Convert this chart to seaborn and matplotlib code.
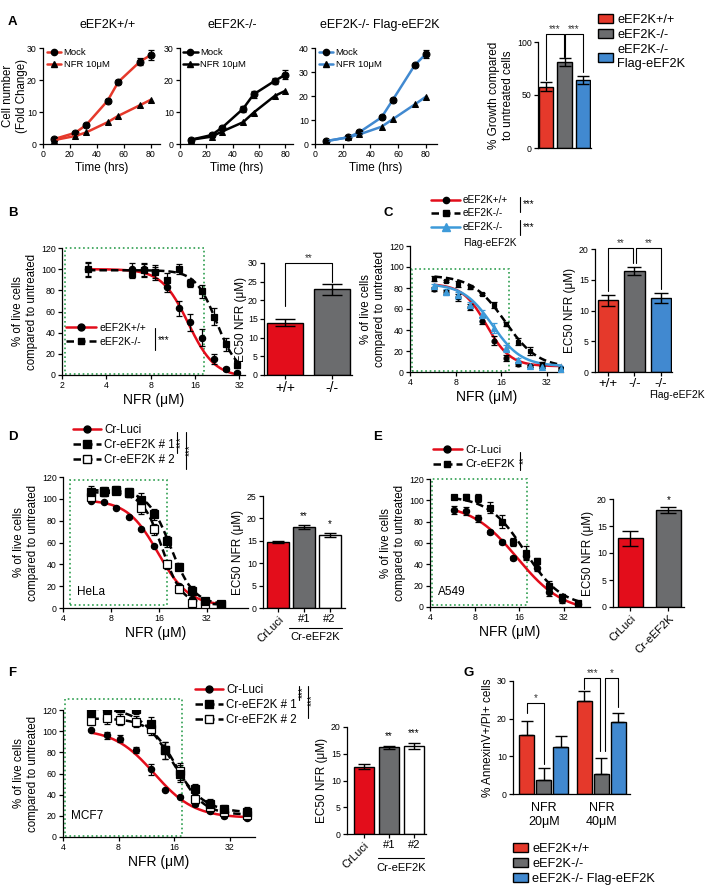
import numpy as np
import pandas as pd
import seaborn as sns
import matplotlib
matplotlib.use("Agg")
import matplotlib.pyplot as plt
import matplotlib.transforms as mtransforms
from matplotlib.lines import Line2D
from matplotlib.patches import Patch, Rectangle

# ---------------- data ----------------
# A: growth curves (fold change) at these time points
hours = [8, 24, 32, 48, 56, 72, 80]
wt_mock = [1.5, 3.5, 5.9, 13.5, 19.4, 25.7, 27.8]
wt_mock_err = [0.5, 0.4, 0.4, 0.5, 0.5, 1.1, 1.5]
wt_nfr = [1.2, 2.5, 3.6, 6.8, 8.8, 12.1, 13.8]
ko_mock = [1.3, 2.8, 5.1, 11.0, 15.5, 19.7, 21.6]
ko_mock_err = [0.4, 0.5, 0.5, 0.9, 1.2, 1.0, 1.4]
ko_nfr = [1.3, 2.3, 3.9, 6.8, 9.8, 15.0, 16.6]
flag_mock = [1.2, 2.8, 4.9, 11.1, 18.3, 32.9, 37.5]
flag_mock_err = [0.3, 0.4, 0.4, 0.5, 0.6, 0.6, 1.5]
flag_nfr = [1.2, 2.8, 4.0, 7.2, 10.3, 16.5, 19.7]

genotypes = ["eEF2K+/+", "eEF2K-/-", "eEF2K-/- Flag-eEF2K"]
growth_pct = [58, 81, 64]
growth_err = [4, 4, 4]

# B: dose response, MEFs
dose_b = [3, 6, 7.2, 8.6, 10.4, 12.4, 14.9, 17.9, 21.5, 25.8, 31]
b_wt = [100, 100, 100, 97, 83, 63, 50, 35, 15, 6, 1.5]
b_wt_err = [7, 6, 6, 7, 5, 7, 8, 8, 5, 2, 2]
b_ko = [100, 95, 99, 97, 90, 100, 87, 79, 55, 29, 9]
b_ko_err = [6, 3, 6, 5, 6, 5, 4, 6, 8, 6, 2]
b_fit_wt = (100, -2, 14.4, 4.8)      # top, bottom, EC50, hill slope
b_fit_ko = (99, 0, 22.5, 6)
b_ec50 = [14, 23]
b_ec50_err = [1.0, 1.5]

# C
dose_c = [5.8, 6.9, 8.3, 10, 12, 14.4, 17.3, 20.7, 24.9, 29.9, 40]
c_wt = [79, 76, 71, 62, 49, 30, 13.5, 8, 6, 5, 3]
c_wt_err = [2, 2, 3, 3, 3, 4, 3, 2, 1, 1, 1]
c_ko = [89, 87, 84, 81, 74, 64, 46, 29, 20, 8, 3]
c_ko_err = [2, 1, 3, 2, 1, 3, 2, 3, 4, 2, 2]
c_flag = [82, 76, 73, 64, 54, 42, 22.5, 11, 6, 5, 3]
c_flag_err = [2, 3, 3, 3, 5, 5, 3, 2, 2, 1, 3]
c_fit_wt = (84, 5.5, 12.8, 5.5)
c_fit_ko = (92, 4, 17, 4)
c_fit_flag = (84, 5.5, 14, 4.5)
c_ec50 = [11.7, 16.4, 12.1]
c_ec50_err = [0.9, 0.7, 0.8]

# D (HeLa)
dose_d = [6, 7.2, 8.6, 10.4, 12.4, 14.9, 17.9, 21.5, 25.8, 31, 39]
d_luci = [98, 97, 92, 83, 72, 57, 40, 20, 8, 4, 3]
d_luci_err = [1, 1, 1, 1, 1, 1, 2, 2, 1, 1, 1]
d_k1 = [106, 107, 108, 106, 99, 86, 61, 38, 16, 6, 4]
d_k1_err = [6, 4, 4, 4, 6, 5, 5, 3, 4, 3, 2]
d_k2 = [102, 106, 107, 105, 92, 72, 40, 17, 5, 4, 3]
d_k2_err = [5, 3, 3, 3, 6, 5, 4, 3, 2, 2, 2]
d_fit_luci = (99, 2, 15.8, 4.5)
d_fit_k1 = (108, 3, 19, 6)
d_fit_k2 = (106, 3, 16.8, 7)
d_ec50 = [14.8, 18.1, 16.3]
d_ec50_err = [0.2, 0.5, 0.5]

# E (A549)
dose_e = [5.8, 7, 8.4, 10.1, 12.2, 14.6, 17.7, 21.2, 25.4, 30.9, 40]
e_luci = [91, 90, 83, 70, 61, 46, 48, 37, 14, 7, 3]
e_luci_err = [4, 4, 3, 2, 2, 2, 4, 3, 4, 3, 2]
e_k = [103, 103, 102, 93, 80, 61, 51, 43, 20, 9, 4]
e_k_err = [2, 3, 4, 5, 6, 4, 6, 3, 4, 3, 2]
e_fit_luci = (97, -5, 15.5, 2.8)
e_fit_k = (104, 0, 17.5, 3.5)
e_ec50 = [12.7, 18.0]
e_ec50_err = [1.4, 0.6]

# F (MCF7)
dose_f = [5.7, 6.9, 8.2, 9.9, 12, 14.3, 17.3, 20.7, 25, 30, 40]
f_luci = [101, 96, 93, 82, 64, 44, 38, 31, 25, 20, 18]
f_luci_err = [1, 3, 3, 3, 5, 1, 1, 2, 2, 2, 2]
f_k1 = [117, 121, 122, 121, 107, 82, 60, 45, 31, 26, 24]
f_k1_err = [4, 5, 4, 5, 6, 8, 8, 5, 5, 4, 4]
f_k2 = [110, 112, 111, 109, 102, 82, 62, 36, 28, 24, 21]
f_k2_err = [4, 5, 5, 5, 6, 8, 8, 5, 4, 4, 3]
f_fit_luci = (102, 18, 12.5, 4)
f_fit_k1 = (122, 23, 15.5, 5)
f_fit_k2 = (112, 21, 16.5, 6)
f_ec50 = [12.6, 16.2, 16.5]
f_ec50_err = [0.4, 0.3, 0.6]

# G: apoptosis
g_doses = ["NFR\n20μM", "NFR\n40μM"]
g_wt = [15.7, 24.7]
g_wt_err = [3.7, 2.7]
g_ko = [3.7, 5.3]
g_ko_err = [3.3, 4.2]
g_flag = [12.5, 19.0]
g_flag_err = [3.0, 2.5]

# ---------------- style ----------------
RED_A = "#e5392b"
RED = "#e30d1b"
GREY = "#6b6c6e"
BLUE = "#4189d0"
LBLUE = "#3d9ad9"
GREEN = "#2e9e4f"
DASH = (0, (3, 1.6))

sns.set_theme(style="ticks")
plt.rcParams["font.family"] = ["Liberation Sans", "DejaVu Sans"]
plt.rcParams.update({
    "axes.linewidth": 0.9, "axes.edgecolor": "black",
    "xtick.major.width": 0.9, "ytick.major.width": 0.9,
    "xtick.major.size": 3, "ytick.major.size": 3,
    "xtick.labelsize": 6.3, "ytick.labelsize": 6.3,
    "xtick.major.pad": 1.5, "ytick.major.pad": 1.5,
    "xtick.color": "black", "ytick.color": "black",
    "axes.labelpad": 2, "text.color": "black", "axes.labelcolor": "black",
})

W, H = 708, 894
fig = plt.figure(figsize=(W / 100, H / 100), dpi=100)


def add_ax(x0, y0, x1, y1):
    return fig.add_axes([x0 / W, 1 - y1 / H, (x1 - x0) / W, (y1 - y0) / H])


def fig_xy(x, y):
    return x / W, 1 - y / H


def fig_text(x, y, s, **kw):
    kw.setdefault("va", "center")
    fig.text(x / W, 1 - y / H, s, **kw)


def fig_vline(x, y0, y1):
    fig.add_artist(Line2D([x / W, x / W], [1 - y0 / H, 1 - y1 / H], color="black", lw=0.8))


def hill(x, top, bottom, ec50, h):
    return bottom + (top - bottom) / (1 + (x / ec50) ** h)


def dose_series(ax, x, y, err, fit, color, ls, marker, face, ecolor="black", ms=4.5):
    xs = np.geomspace(x[0], x[-1], 200)
    sns.lineplot(x=xs, y=hill(xs, *fit), color=color, linestyle=ls, lw=1.8, ax=ax, zorder=2)
    ax.errorbar(x, y, yerr=err, fmt=marker, ms=ms, mfc=face, mec=ecolor, mew=0.9,
                ecolor=ecolor, elinewidth=0.9, capsize=2.5, capthick=0.9, zorder=3)


def dose_axes(ax, xmin, xmax, xticks, box):
    ax.set_xscale("log", base=2)
    ax.set_xlim(xmin, xmax)
    ax.set_ylim(0, 120)
    ax.set_xticks(xticks, [str(t) for t in xticks])
    ax.minorticks_off()
    ax.set_yticks(range(0, 121, 20))
    x0, x1, y0, y1 = box
    ax.add_patch(Rectangle((x0, y0), x1 - x0, y1 - y0, fill=False, ec=GREEN, ls=":",
                           lw=1.2, clip_on=False, zorder=1))
    ax.set_xlabel("NFR (μM)", fontsize=10)
    ax.set_ylabel("% of live cells\ncompared to untreated", fontsize=8.3)
    sns.despine(ax=ax)


def ec50_bars(ax, groups, vals, errs, colors, width, capsize, ymax, ystep, xlim, ticklabels):
    df = pd.DataFrame({"group": groups, "val": vals})
    sns.barplot(data=df, x="group", y="val", hue="group", palette=colors, legend=False,
                width=width, edgecolor="black", linewidth=1, errorbar=None,
                saturation=1, ax=ax)
    ax.errorbar(range(len(vals)), vals, yerr=errs, fmt="none", ecolor="black",
                elinewidth=1, capsize=capsize, capthick=1)
    ax.set_ylim(0, ymax)
    ax.set_yticks(np.arange(0, ymax + 0.1, ystep))
    ax.set_xlim(*xlim)
    ax.set_xticks(range(len(vals)), ticklabels)
    ax.set_xlabel("")
    ax.set_ylabel("EC50 NFR (μM)", fontsize=8.5)
    sns.despine(ax=ax)


def bracket(ax, x0, x1, top, y0, y1, text, fs=7):
    ax.plot([x0, x0, x1, x1], [y0, top, top, y1], color="black", lw=0.8, clip_on=False)
    ax.text((x0 + x1) / 2, top, text, ha="center", va="bottom", fontsize=fs,
            color="#333333", clip_on=False)


def legend_at(ax, handles, labels, x, y, fs, hl=2.2, ls=0.3):
    ax.legend(handles, labels, loc="upper left", bbox_to_anchor=fig_xy(x, y),
              bbox_transform=fig.transFigure, frameon=False, fontsize=fs,
              handlelength=hl, handletextpad=0.3, labelspacing=ls,
              borderaxespad=0, borderpad=0)


def h_line(color, ls, marker, face="black", ec="black", ms=5):
    return Line2D([], [], color=color, ls=ls, lw=1.8, marker=marker, ms=ms, mfc=face, mec=ec)


def rotate_first(ax, all_labels=False):
    labs = ax.get_xticklabels()
    for lab in (labs if all_labels else labs[:1]):
        lab.set_rotation(45)
        lab.set_ha("right")
        lab.set_rotation_mode("anchor")


# ---------------- A ----------------
a_axes = [add_ax(43, 48, 160, 144), add_ax(180, 48, 293, 144), add_ax(315, 48, 437, 144)]
a_sets = [(RED_A, wt_mock, wt_mock_err, wt_nfr, 30, 87),
          ("black", ko_mock, ko_mock_err, ko_nfr, 30, 86),
          (BLUE, flag_mock, flag_mock_err, flag_nfr, 40, 88)]
for ax, (col, mock, err, nfr, ymax, xmax), title, xc in zip(a_axes, a_sets, genotypes, [108, 232, 380]):
    sns.lineplot(x=hours, y=mock, color=col, lw=1.8, marker="o", ms=5, mfc="black", mec="black", ax=ax)
    sns.lineplot(x=hours, y=nfr, color=col, lw=1.8, marker="^", ms=5, mfc="black", mec="black", ax=ax)
    ax.errorbar(hours, mock, yerr=err, fmt="none", ecolor="black", elinewidth=0.9,
                capsize=2.5, capthick=0.9, zorder=4)
    ax.set_xlim(0, xmax)
    ax.set_ylim(0, ymax)
    ax.set_xticks([0, 20, 40, 60, 80])
    ax.set_yticks(range(0, ymax + 1, 10))
    ax.set_xlabel("Time (hrs)", fontsize=8.5)
    ax.set_ylabel("")
    sns.despine(ax=ax)
    hs = [h_line(col, "-", "o", ms=4.5), h_line(col, "-", "^", ms=4.5)]
    ax.legend(hs, ["Mock", "NFR 10μM"], loc="upper left", bbox_to_anchor=(0.03, 1.0),
              frameon=False, fontsize=6.8, handlelength=1.5, handletextpad=0.3,
              labelspacing=0.3, borderaxespad=0, borderpad=0)
    fig_text(xc, 25, title, ha="center", fontsize=9)
a_axes[0].set_ylabel("Cell number\n(Fold Change)", fontsize=8.3)
a_axes[0].yaxis.set_label_coords(-0.13, 0.5)
fig_text(8, 22, "A", fontweight="bold", fontsize=9.5)

ax = add_ax(538, 42, 591, 148)
df = pd.DataFrame({"geno": genotypes, "pct": growth_pct})
sns.barplot(data=df, x="geno", y="pct", hue="geno", palette=[RED_A, GREY, BLUE], legend=False,
            width=0.78, edgecolor="black", linewidth=1, errorbar=None, saturation=1, ax=ax)
ax.errorbar(range(3), growth_pct, yerr=growth_err, fmt="none", ecolor="black",
            elinewidth=1, capsize=4, capthick=1)
ax.set_xlim(-0.45, 2.45)
ax.set_ylim(0, 100)
ax.set_yticks([0, 50, 100])
ax.set_xticks([])
ax.set_xlabel("")
ax.set_ylabel("% Growth compared\nto untreated cells", fontsize=8.5)
sns.despine(ax=ax)
bracket(ax, 0, 0.95, 107.5, 64, 86, "***")
bracket(ax, 1.05, 2, 107.5, 86, 72, "***")
hs = [Patch(fc=c, ec="black", lw=1) for c in [RED_A, GREY, BLUE]]
legend_at(ax, hs, ["eEF2K+/+", "eEF2K-/-", "eEF2K-/-\nFlag-eEF2K"], 598, 14, 9.2, hl=1.2, ls=0.25)

# ---------------- B ----------------
ax = add_ax(62, 248, 245, 375)
dose_series(ax, dose_b, b_wt, b_wt_err, b_fit_wt, RED, "-", "o", "black")
dose_series(ax, dose_b, b_ko, b_ko_err, b_fit_ko, "black", DASH, "s", "black")
dose_axes(ax, 2, 35, [2, 4, 8, 16, 32], (2.1, 18.4, 1, 120))
legend_at(ax, [h_line(RED, "-", "o"), h_line("black", DASH, "s")],
          ["eEF2K+/+", "eEF2K-/-"], 66, 323, 7.5, hl=2.9, ls=0.35)
fig_vline(155, 328, 350)
fig_text(158, 340, "***", fontsize=7)
fig_text(8, 213, "B", fontweight="bold", fontsize=9.5)

ax = add_ax(264, 263, 352, 375)
ec50_bars(ax, genotypes[:2], b_ec50, b_ec50_err, [RED, GREY], 0.77, 7, 30, 5,
          (-0.45, 1.42), ["+/+", "-/-"])
ax.tick_params(axis="x", labelsize=10)
ax.yaxis.set_label_coords(-0.19, 0.5)
bracket(ax, 0, 1, 30, 18.4, 25, "**")

# ---------------- C ----------------
ax = add_ax(410, 246, 563, 372)
dose_series(ax, dose_c, c_wt, c_wt_err, c_fit_wt, RED, "-", "o", "black", ms=3.5)
dose_series(ax, dose_c, c_ko, c_ko_err, c_fit_ko, "black", DASH, "s", "black", ms=3.5)
dose_series(ax, dose_c, c_flag, c_flag_err, c_fit_flag, LBLUE, "-", "^", LBLUE, ecolor=LBLUE, ms=4)
dose_axes(ax, 4, 41, [4, 8, 16, 32], (4.1, 18.1, 0.5, 98))
legend_at(ax, [h_line(RED, "-", "o", ms=4.5), h_line("black", DASH, "s", ms=4.5),
               h_line(LBLUE, "-", "^", face=LBLUE, ec=LBLUE, ms=5.5)],
          ["eEF2K+/+", "eEF2K-/-", "eEF2K-/-"], 431, 195, 7.2, hl=2.9, ls=0.35)
fig_text(463, 243, "Flag-eEF2K", fontsize=7.2)
fig_vline(520, 197, 212)
fig_text(523, 204, "***", fontsize=7)
fig_vline(520, 220, 235)
fig_text(523, 227, "***", fontsize=7)
fig_text(383, 213, "C", fontweight="bold", fontsize=9.5)

ax = add_ax(595, 249, 672, 372)
ec50_bars(ax, genotypes, c_ec50, c_ec50_err, [RED_A, GREY, BLUE], 0.77, 5, 20, 5,
          (-0.49, 2.42), ["+/+", "-/-", "-/-"])
ax.tick_params(axis="x", labelsize=9.5)
fig_text(677, 395, "Flag-eEF2K", ha="center", fontsize=7.5)
bracket(ax, 0, 0.95, 20.2, 13.2, 17.7, "**")
bracket(ax, 1.05, 2, 20.2, 17.7, 13.5, "**")

# ---------------- D ----------------
ax = add_ax(63, 477, 248, 608)
dose_series(ax, dose_d, d_luci, d_luci_err, d_fit_luci, RED, "-", "o", "black")
dose_series(ax, dose_d, d_k2, d_k2_err, d_fit_k2, "black", DASH, "s", "white", ms=5.5)
dose_series(ax, dose_d, d_k1, d_k1_err, d_fit_k1, "black", DASH, "s", "black", ms=5.5)
dose_axes(ax, 4, 58, [4, 8, 16, 32], (4.4, 17.9, 3, 117))
ax.text(4.9, 15, "HeLa", fontsize=8.5, va="center")
legend_at(ax, [h_line(RED, "-", "o"), h_line("black", DASH, "s", ms=6),
               h_line("black", DASH, "s", face="white", ms=6)],
          ["Cr-Luci", "Cr-eEF2K # 1", "Cr-eEF2K # 2"], 73, 424, 8.3, hl=2.4, ls=0.25)
fig_vline(177, 432, 453)
fig_text(181, 442, "***", fontsize=7, rotation=90, ha="center")
fig_vline(186, 432, 469)
fig_text(190, 450, "***", fontsize=7, rotation=90, ha="center")
fig_text(8, 437, "D", fontweight="bold", fontsize=9.5)

ax = add_ax(263, 496, 345, 608)
ec50_bars(ax, ["CrLuci", "#1", "#2"], d_ec50, d_ec50_err, [RED, GREY, "white"], 0.85, 4,
          25, 5, (-0.6, 2.6), ["CrLuci", "#1", "#2"])
ax.tick_params(axis="x", labelsize=8)
rotate_first(ax)
ax.text(1, 19.4, "**", ha="center", va="bottom", fontsize=7)
ax.text(2, 17.6, "*", ha="center", va="bottom", fontsize=7)
tr = mtransforms.blended_transform_factory(ax.transData, ax.transAxes)
ax.plot([0.4, 2.5], [-0.18, -0.18], transform=tr, color="black", lw=0.8, clip_on=False)
ax.text(1.45, -0.26, "Cr-eEF2K", transform=tr, ha="center", va="center", fontsize=8)

# ---------------- E ----------------
ax = add_ax(430, 479, 590, 607)
dose_series(ax, dose_e, e_luci, e_luci_err, e_fit_luci, RED, "-", "o", "black")
dose_series(ax, dose_e, e_k, e_k_err, e_fit_k, "black", DASH, "s", "black")
dose_axes(ax, 4, 48, [4, 8, 16, 32], (4.1, 18, 2, 120))
ax.text(4.5, 14, "A549", fontsize=8.5, va="center")
legend_at(ax, [h_line(RED, "-", "o"), h_line("black", DASH, "s")],
          ["Cr-Luci", "Cr-eEF2K"], 433, 445, 8, hl=2.6, ls=0.4)
fig_vline(520, 452, 470)
fig_text(524, 460, "**", fontsize=7, rotation=90, ha="center")
fig_text(373, 437, "E", fontweight="bold", fontsize=9.5)

ax = add_ax(613, 499, 684, 607)
ec50_bars(ax, ["CrLuci", "Cr-eEF2K"], e_ec50, e_ec50_err, [RED, GREY], 0.66, 6, 20, 5,
          (-0.46, 1.41), ["CrLuci", "Cr-eEF2K"])
ax.tick_params(axis="x", labelsize=8)
rotate_first(ax, all_labels=True)
ax.text(1, 18.8, "*", ha="center", va="bottom", fontsize=7)

# ---------------- F ----------------
ax = add_ax(63, 710, 255, 837)
dose_series(ax, dose_f, f_luci, f_luci_err, f_fit_luci, RED, "-", "o", "black")
dose_series(ax, dose_f, f_k2, f_k2_err, f_fit_k2, "black", DASH, "s", "white", ms=5.5)
dose_series(ax, dose_f, f_k1, f_k1_err, f_fit_k1, "black", DASH, "s", "black", ms=5.5)
dose_axes(ax, 4, 44, [4, 8, 16, 32], (4.1, 17.6, 1, 130))
ax.text(4.4, 20, "MCF7", fontsize=8.5, va="center")
legend_at(ax, [h_line(RED, "-", "o"), h_line("black", DASH, "s", ms=6),
               h_line("black", DASH, "s", face="white", ms=6)],
          ["Cr-Luci", "Cr-eEF2K # 1", "Cr-eEF2K # 2"], 195, 684, 8.3, hl=2.4, ls=0.25)
fig_vline(299, 686, 700)
fig_text(303, 692, "***", fontsize=7, rotation=90, ha="center")
fig_vline(308, 686, 718)
fig_text(312, 700, "***", fontsize=7, rotation=90, ha="center")
fig_text(8, 673, "F", fontweight="bold", fontsize=9.5)

ax = add_ax(347, 727, 426, 834)
ec50_bars(ax, ["CrLuci", "#1", "#2"], f_ec50, f_ec50_err, [RED, GREY, "white"], 0.8, 4,
          20, 5, (-0.68, 2.48), ["CrLuci", "#1", "#2"])
ax.tick_params(axis="x", labelsize=8)
rotate_first(ax)
ax.text(1, 17.3, "**", ha="center", va="bottom", fontsize=7)
ax.text(2, 17.9, "***", ha="center", va="bottom", fontsize=7)
tr = mtransforms.blended_transform_factory(ax.transData, ax.transAxes)
ax.plot([0.56, 2.4], [-0.224, -0.224], transform=tr, color="black", lw=0.8, clip_on=False)
ax.text(1.5, -0.318, "Cr-eEF2K", transform=tr, ha="center", va="center", fontsize=8)

# ---------------- G ----------------
ax = add_ax(513, 681, 630, 794)
g_df = pd.DataFrame({
    "dose": g_doses * 3,
    "geno": [g for g in genotypes for _ in g_doses],
    "pct": g_wt + g_ko + g_flag,
})
sns.barplot(data=g_df, x="dose", y="pct", hue="geno", hue_order=genotypes,
            palette=[RED_A, GREY, BLUE], width=0.89, gap=0.12, edgecolor="black",
            linewidth=1, errorbar=None, legend=False, saturation=1, ax=ax)
bars = sorted([p for p in ax.patches if p.get_height() > 0], key=lambda p: p.get_x())
centers = [p.get_x() + p.get_width() / 2 for p in bars]
g_vals = [v for i in range(2) for v in (g_wt[i], g_ko[i], g_flag[i])]
g_errs = [e for i in range(2) for e in (g_wt_err[i], g_ko_err[i], g_flag_err[i])]
ax.errorbar(centers, g_vals, yerr=[np.zeros(6), g_errs], fmt="none", ecolor="black",
            elinewidth=1, capsize=4, capthick=1)
ax.set_xlim(-0.54, 1.5)
ax.set_ylim(0, 30)
ax.set_yticks([0, 10, 20, 30])
ax.set_xlabel("")
ax.tick_params(axis="x", labelsize=9, length=0, pad=6)
ax.set_ylabel("% AnnexinV+/PI+ cells", fontsize=8.5)
sns.despine(ax=ax)
bracket(ax, centers[0], centers[1], 24.1, 21.4, 8, "*")
bracket(ax, centers[3], centers[4] - 0.02, 30.7, 28, 11.3, "***")
bracket(ax, centers[4] + 0.06, centers[5], 30.7, 11.3, 23.2, "*")
hs = [Patch(fc=c, ec="black", lw=1) for c in [RED_A, GREY, BLUE]]
legend_at(ax, hs, genotypes, 513, 843, 9.2, hl=1.2, ls=0.25)
fig_text(463, 673, "G", fontweight="bold", fontsize=9.5)

fig.savefig("out.png", dpi=100)
